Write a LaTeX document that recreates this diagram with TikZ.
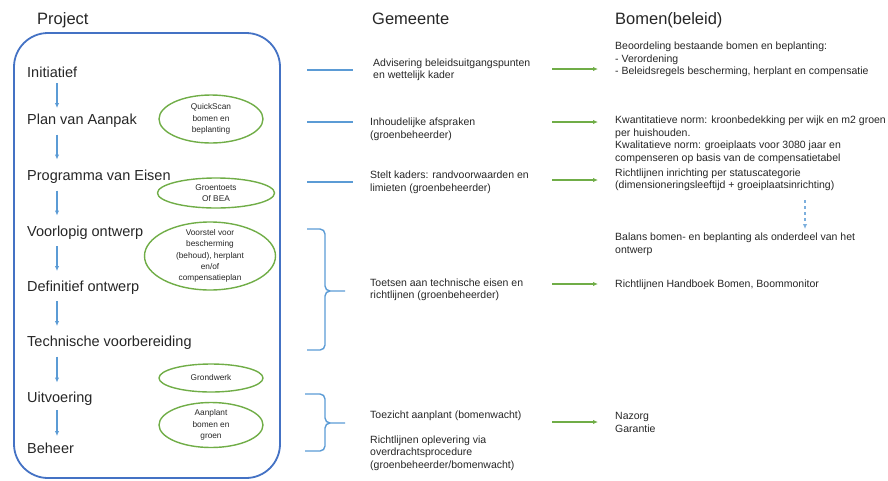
\documentclass[tikz,border=0pt]{standalone}
\usepackage{fontspec}
\setmainfont{Liberation Sans}
\usepackage{tikz}
\usetikzlibrary{arrows.meta}
\usetikzlibrary{shapes.geometric}
\usetikzlibrary{calc}
\usepackage{xcolor}
\definecolor{ColFrame}{RGB}{68,114,196}
\definecolor{ColStep}{RGB}{91,155,213}
\definecolor{ColGreen}{RGB}{112,173,71}
\definecolor{ColText}{RGB}{38,38,38}
\tikzstyle{ProjectFrame}=[draw=ColFrame,line width=1.8pt,rounded corners=34pt,
minimum width=266pt,minimum height=445pt,inner sep=0pt]
\tikzstyle{Title}=[anchor=west,inner sep=0pt,text height=12pt,text depth=3.5pt,
font=\fontsize{16.5}{18}\selectfont,text=ColText]
\tikzstyle{Stage}=[anchor=west,inner sep=0pt,text height=10.5pt,text depth=3pt,
font=\fontsize{14.5}{16}\selectfont,text=ColText]
\tikzstyle{Bubble}=[ellipse,draw=ColGreen,line width=1.4pt,inner sep=0pt]
\tikzstyle{BubbleText}=[inner sep=0pt,align=center,font=\fontsize{8.3}{11.3}\selectfont,text=ColText]
\tikzstyle{Note}=[anchor=west,inner sep=0pt,align=left,font=\fontsize{10.5}{12.5}\selectfont,text=ColText]
\tikzstyle{StepArrow}=[ColStep,line width=1.2pt,-{Latex[length=5pt,width=4.5pt]}]
\tikzstyle{LinkBlue}=[ColStep,line width=1.4pt]
\tikzstyle{LinkGreen}=[ColGreen,line width=1.6pt,-{Latex[length=5pt,width=4.5pt]}]
\tikzstyle{Brace}=[ColStep,line width=1.4pt,rounded corners=5pt]
\tikzstyle{DashArrow}=[ColStep!80,line width=1.2pt,dashed,-{Latex[length=5pt,width=4.5pt]}]
\begin{document}
\begin{tikzpicture}[x=1pt,y=-1pt]
        \useasboundingbox (0,0) rectangle (888,480);
        % project column
        \node[ProjectFrame](frame)at(147,255.5){};
        \node[Title](tproj)at(37,20.5){Project};
        \node[Stage](s1)at(27,73.5){Initiatief};
        \node[Stage](s2)at(27,120.5){Plan van Aanpak};
        \node[Stage](s3)at(27,176.5){Programma van Eisen};
        \node[Stage](s4)at(27,232.5){Voorlopig ontwerp};
        \node[Stage](s5)at(27,287.5){Definitief ontwerp};
        \node[Stage](s6)at(27,342.5){Technische voorbereiding};
        \node[Stage](s7)at(27,398.5){Uitvoering};
        \node[Stage](s8)at(27,449.5){Beheer};
        \draw[StepArrow]($(s1.west)!.5!(s2.west)+(30,-14)$)--++(0,25);
        \draw[StepArrow]($(s2.west)!.5!(s3.west)+(30,-14)$)--++(0,25);
        \draw[StepArrow]($(s3.west)!.5!(s4.west)+(30,-14)$)--++(0,25);
        \draw[StepArrow]($(s4.west)!.5!(s5.west)+(30,-14)$)--++(0,25);
        \draw[StepArrow]($(s5.west)!.5!(s6.west)+(30,-14)$)--++(0,25);
        \draw[StepArrow]($(s6.west)!.5!(s7.west)+(30,-14)$)--++(0,26);
        \draw[StepArrow]($(s7.west)!.5!(s8.west)+(30,-14)$)--++(0,26);
        \node[Bubble,minimum width=104pt,minimum height=48pt,
          label={[BubbleText]center:QuickScan\\bomen en\\beplanting}](e1)at(211,119){};
        \node[Bubble,minimum width=117pt,minimum height=30pt,
          label={[BubbleText]center:Groentoets\\Of BEA}](e2)at(216,193){};
        \node[Bubble,minimum width=131pt,minimum height=68pt,
          label={[BubbleText]center:Voorstel voor\\bescherming\\(behoud), herplant\\en/of\\compensatieplan}](e3)at(210,256){};
        \node[Bubble,minimum width=104pt,minimum height=28pt,
          label={[BubbleText]center:Grondwerk}](e4)at(211,378){};
        \node[Bubble,minimum width=104pt,minimum height=45pt,
          label={[BubbleText]center:Aanplant\\bomen en\\groen}](e5)at(211,425){};
        % gemeente column
        \node[Title](tgem)at(372,20.5){Gemeente};
        \node[Note](g1)at(373,70){Advisering beleidsuitgangspunten\\en wettelijk kader};
        \node[Note](g2)at(370,129.5){Inhoudelijke afspraken\\(groenbeheerder)};
        \node[Note](g3)at(370,182.5){Stelt kaders: randvoorwaarden en\\limieten (groenbeheerder)};
        \node[Note](g4)at(370,290){Toetsen aan technische eisen en\\richtlijnen (groenbeheerder)};
        \node[Note](g5)at(370,416){Toezicht aanplant (bomenwacht)};
        \node[Note](g6)at(370,453){Richtlijnen oplevering via\\overdrachtsprocedure\\(groenbeheerder/bomenwacht)};
        \coordinate(l1)at(307,70);\coordinate(r1)at(353,70);
        \coordinate(l2)at(307,122);\coordinate(r2)at(353,122);
        \coordinate(l3)at(307,182);\coordinate(r3)at(353,182);
        \draw[LinkBlue](l1)--(r1);
        \draw[LinkBlue](l2)--(r2);
        \draw[LinkBlue](l3)--(r3);
        \draw[Brace](307,229)-|(325,291)--(345,291)(345,291)--(325,291)|-(307,350);
        \draw[Brace](305,394)-|(325,423)--(345,423)(345,423)--(325,423)|-(305,451);
        % bomen column
        \node[Title](tbom)at(615,20.5){Bomen(beleid)};
        \node[Note](b1)at(615,59.5){Beoordeling bestaande bomen en beplanting:\\- Verordening\\- Beleidsregels bescherming, herplant en compensatie};
        \node[Note](b2)at(615,140){Kwantitatieve norm: kroonbedekking per wijk en m2 groen\\per huishouden.\\Kwalitatieve norm: groeiplaats voor 3080 jaar en\\compenseren op basis van de compensatietabel};
        \node[Note](b3)at(615,180){Richtlijnen inrichting per statuscategorie\\(dimensioneringsleeftijd + groeiplaatsinrichting)};
        \node[Note](b4)at(615,244.5){Balans bomen- en beplanting als onderdeel van het\\ontwerp};
        \node[Note](b5)at(615,285){Richtlijnen Handboek Bomen, Boommonitor};
        \node[Note](b6)at(615,422.5){Nazorg\\Garantie};
        \coordinate(a1)at(552,69);\coordinate(c1)at(598,69);
        \coordinate(a2)at(552,122);\coordinate(c2)at(598,122);
        \coordinate(a3)at(552,180);\coordinate(c3)at(598,180);
        \coordinate(a4)at(552,284);\coordinate(c4)at(598,284);
        \coordinate(a5)at(552,422);\coordinate(c5)at(598,422);
        \draw[LinkGreen](a1)--(c1);
        \draw[LinkGreen](a2)--(c2);
        \draw[LinkGreen](a3)--(c3);
        \draw[LinkGreen](a4)--(c4);
        \draw[LinkGreen](a5)--(c5);
        \coordinate(d1)at(805,200);\coordinate(d2)at(805,229);
        \draw[DashArrow](d1)--(d2);
    \end{tikzpicture}
\end{document}
